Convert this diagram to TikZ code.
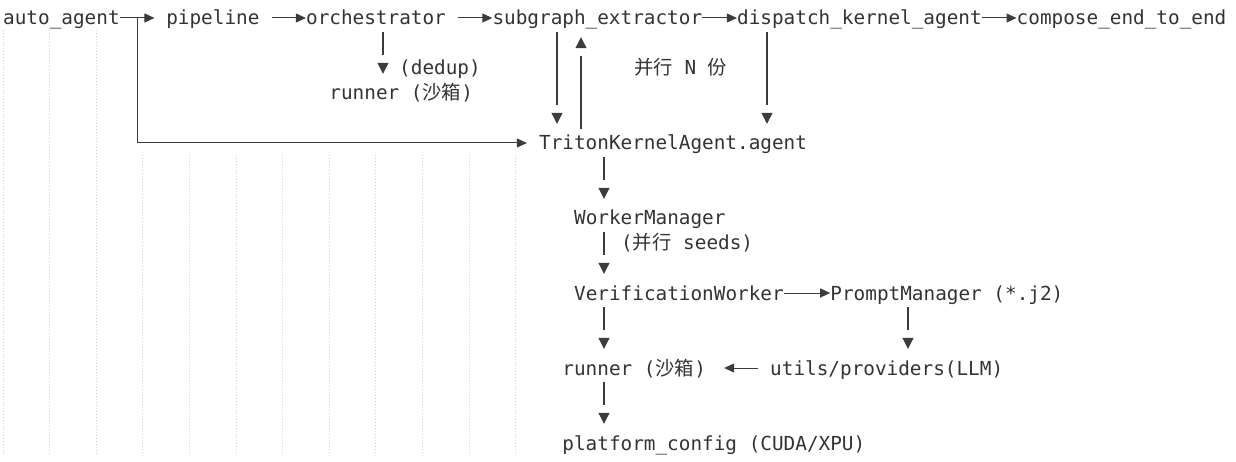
\documentclass[tikz,border=0pt]{standalone}
\usepackage{fontspec}
\setmonofont{DejaVu Sans Mono}
\newfontfamily\cjk{Noto Sans CJK SC}
\usetikzlibrary{arrows.meta}
\definecolor{cInk}  {HTML}{333333}
\definecolor{cLine} {HTML}{3C3C3C}
\definecolor{cGuide}{HTML}{D2D2D2}
\newcommand\diagfont{\fontsize{19.35pt}{25pt}\selectfont\ttfamily}
\tikzset{
  txt/.style  ={inner sep=0pt,anchor=base west,text height=16pt,text depth=2pt,text=cInk},
  flow/.style ={-{Triangle[width=9pt,length=10pt]},draw=cLine,line width=1pt},
  drop/.style ={-{Bar[width=4pt,line width=8pt,color=white,sep=0pt]Triangle[width=11pt,length=11pt]},
                draw=cLine,line width=1.1pt,shorten <=5pt,shorten >=10pt},
  guide/.style={draw=cGuide,line width=0.8pt,dash pattern=on 1pt off 2pt},
}

\begin{document}
\begin{tikzpicture}[x=1pt, y=-1pt, font=\diagfont]
\useasboundingbox (0,0) rectangle (1236,462);

% --- editor indent guides ---------------------------------------------------
\foreach \gx in {3,49.6,96.2} \draw[guide] (\gx,30) -- (\gx,455);
\foreach \gx in {142.8,189.4,...,516} \draw[guide] (\gx,155) -- (\gx,455);

% --- top row: the pipeline chain -------------------------------------------
\node[txt] (auto) at (3,25)      {auto\_agent};
\node[txt] (pipe) at (166.1,25)  {pipeline};
\node[txt] (orch) at (305.9,25)  {orchestrator};
\node[txt] (sub)  at (492.3,25)  {subgraph\_extractor};
\node[txt] (disp) at (736.9,25)  {dispatch\_kernel\_agent};
\node[txt] (comp) at (1016.5,25) {compose\_end\_to\_end};

\coordinate (fork) at (auto.east -| 137,0);
\draw[flow,shorten >=11.65pt] (auto.east) -- (pipe.west);
\draw[flow,shorten <=12pt]    (pipe.east) -- (orch.west);
\draw[flow,shorten <=12pt]    (orch.east) -- (sub.west);
\draw[flow] (sub.east)  -- (disp.west);
\draw[flow] (disp.east) -- (comp.west);

% --- dedup side branch -------------------------------------------------------
\node[txt] (sbox)  at (329.2,100) {runner ({\cjk 沙箱})};
\node[txt] (dedup) at (399,75)    {(dedup)};
\draw[drop] (orch.south -| 383,0) -- (sbox.north -| 383,0);

% --- agent, fed from three places -------------------------------------------
\node[txt] (tka)   at (538.9,150) {TritonKernelAgent.agent};
\node[txt] (nfold) at (634,75)    {{\cjk 并行} N {\cjk 份}};
\draw[flow,shorten >=12pt] (fork) |- (tka.west);
\draw[drop] (sub.south -| 557,0)  -- (tka.north -| 557,0);
\draw[drop] (tka.north -| 581,0)  -- (sub.south -| 581,0);
\draw[drop] (disp.south -| 767,0) -- (tka.north -| 767,0);

% --- worker stack ------------------------------------------------------------
\node[txt] (wm)    at (573.9,225) {WorkerManager};
\node[txt] (seeds) at (621,250)   {({\cjk 并行} seeds)};
\node[txt] (vw)    at (573.9,300) {VerificationWorker};
\node[txt] (pm)    at (830.2,300) {PromptManager (*.j2)};
\node[txt] (run)   at (562.2,375) {runner ({\cjk 沙箱})};
\node[txt] (llm)   at (770,375)   {utils/providers(LLM)};
\node[txt] (plat)  at (562.2,450) {platform\_config (CUDA/XPU)};

\draw[drop] (tka.south -| 604,0) -- (wm.north -| 604,0);
\draw[drop] (wm.south -| 604,0)  -- (vw.north -| 604,0);
\draw[flow] (vw.east) -- (pm.west);
\draw[drop] (vw.south -| 604,0)  -- (run.north -| 604,0);
\draw[drop] (pm.south -| 908,0)  -- (llm.north -| 908,0);
\draw[flow,shorten <=12pt,shorten >=18pt] (llm.west) -- (run.east);
\draw[drop] (run.south -| 604,0) -- (plat.north -| 604,0);

\end{tikzpicture}
\end{document}
